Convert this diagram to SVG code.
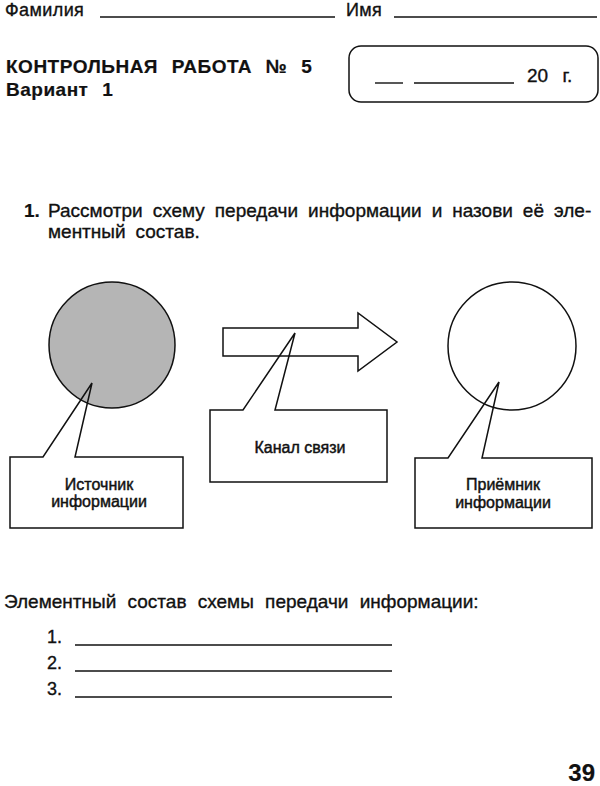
<svg xmlns="http://www.w3.org/2000/svg" width="600" height="786" viewBox="0 0 600 786">
<style>
text{font-family:"Liberation Sans",Arial,sans-serif;fill:#111;stroke:#111;stroke-width:0.35px}
.t18{font-size:18px}
.t19{font-size:19px}
.b{font-weight:bold;stroke-width:0.2px}
.ln{stroke:#111;stroke-width:1.4;fill:none}
.sh{stroke:#111;stroke-width:1.5;fill:none}
.lbl{font-size:16px;text-anchor:middle;stroke-width:0.45px}
</style>
<rect width="600" height="786" fill="#fff"/>
<g id="header">
<text class="t18" x="5" y="16" style="letter-spacing:0.4px">Фамилия</text>
<line class="ln" x1="100" y1="17" x2="335" y2="17"/>
<text class="t18" x="346" y="16" style="letter-spacing:0.4px">Имя</text>
<line class="ln" x1="394" y1="17" x2="597" y2="17"/>
<text class="b" x="6" y="73" style="font-size:19px;letter-spacing:0.5px;word-spacing:8px">КОНТРОЛЬНАЯ РАБОТА № 5</text>
<text class="b" x="6" y="96" style="font-size:19px;letter-spacing:0.5px;word-spacing:8px">Вариант 1</text>
<rect x="349" y="46" width="249" height="56" rx="12" class="sh"/>
<line class="ln" x1="375" y1="83" x2="403" y2="83"/>
<line class="ln" x1="414" y1="83" x2="514" y2="83"/>
<text class="t19" x="527" y="82" style="word-spacing:9px">20 г.</text>
</g>
<g id="task">
<text class="t19 b" x="24" y="217">1.</text>
<text class="t19" x="48" y="217" style="word-spacing:4.7px">Рассмотри схему передачи информации и назови её эле-</text>
<text class="t19" x="48" y="238" style="word-spacing:4.7px">ментный состав.</text>
</g>
<g id="source">
<circle cx="112" cy="345" r="63" fill="#b5b5b5" stroke="#111" stroke-width="1.5"/>
</g>
<g id="channel-arrow">
<polygon points="223,328 358,328 358,313 397,342 358,371 358,356 223,356" fill="#fff" stroke="#111" stroke-width="1.5"/>
</g>
<g id="receiver">
<circle cx="512" cy="346" r="64" fill="#fff" stroke="#111" stroke-width="1.5"/>
</g>
<g id="connectors">
<path class="sh" d="M43,457 L10,457 L10,528 L183,528 L183,457 L75,457 L92,383 Z"/>
<path class="sh" d="M243,410 L210,410 L210,482 L387,482 L387,410 L275,410 L295,333 Z"/>
<path class="sh" d="M448,458 L415,458 L415,528 L592,528 L592,458 L482,458 L499,382 Z"/>
</g>
<g id="label-source">
<text class="lbl" x="99" y="490">Источник</text>
<text class="lbl" x="99" y="507">информации</text>
</g>
<g id="label-channel">
<text class="lbl" x="300" y="453">Канал связи</text>
</g>
<g id="label-receiver">
<text class="lbl" x="503" y="490">Приёмник</text>
<text class="lbl" x="503" y="508">информации</text>
</g>
<g id="answers">
<text class="t19" x="4" y="608" style="word-spacing:6px">Элементный состав схемы передачи информации:</text>
<text class="t18" x="47" y="643">1.</text>
<line class="ln" x1="75" y1="645" x2="392" y2="645"/>
<text class="t18" x="47" y="669">2.</text>
<line class="ln" x1="75" y1="671" x2="392" y2="671"/>
<text class="t18" x="47" y="695">3.</text>
<line class="ln" x1="75" y1="697" x2="392" y2="697"/>
</g>
<text class="b" x="595" y="781" style="font-size:24px;text-anchor:end">39</text>
</svg>
